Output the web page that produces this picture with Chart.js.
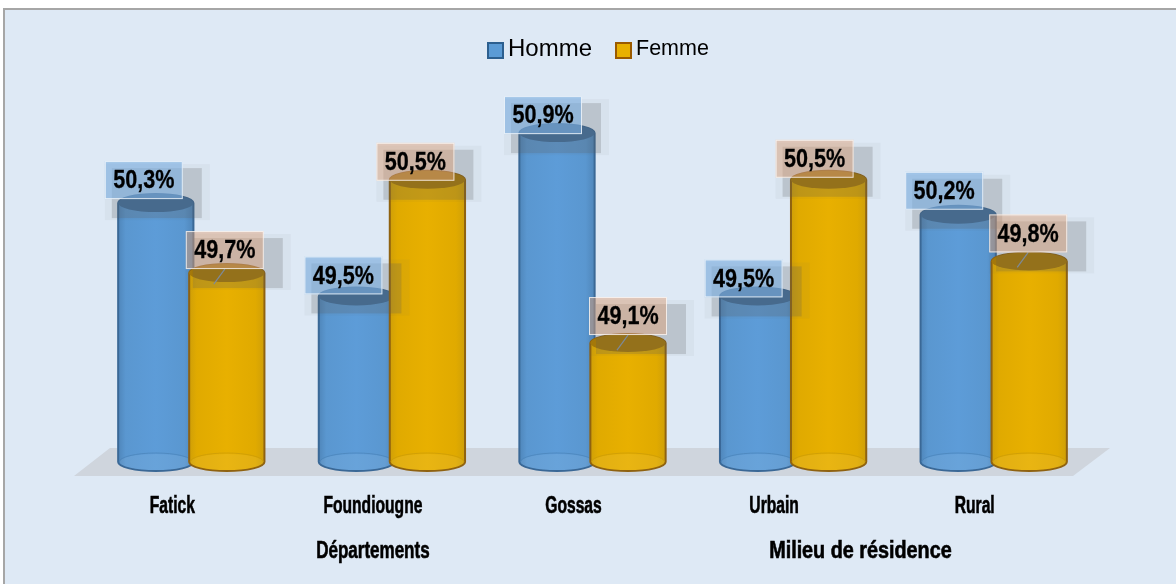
<!DOCTYPE html>
<html lang="fr">
<head>
<meta charset="utf-8">
<title>Homme / Femme</title>
<style>
html,body{margin:0;padding:0;background:#fff}
#wrap{position:relative;width:1176px;height:584px}
canvas{display:block}
</style>
<script src="https://cdn.jsdelivr.net/npm/chart.js@4"></script>
</head>
<body>
<div id="wrap"><canvas id="c" width="1176" height="584"></canvas></div>
<script>
const categories = ['Fatick', 'Foundiougne', 'Gossas', 'Urbain', 'Rural'];
const groupLabels = ['Départements', 'Milieu de résidence'];
const homme = [50.3, 49.5, 50.9, 49.5, 50.2];
const femme = [49.7, 50.5, 49.1, 50.5, 49.8];
const axisMin = 48.08;
const axisMax = 51.99;

const SANS = '"Liberation Sans",Arial,sans-serif';
// label box offset from the top of each bar
const hommeLabelOffset = [[-12, -23], [-13, -21], [-14, -18], [-14, -18], [-14, -24]];
const femmeLabelOffset = [[-2, -23], [-12, -18], [0, -27], [-14, -21], [-1, -28]];
const femmeLeader = [true, false, true, false, true];

const styles = [
  {edge:'#3a6896', dark:'#4f86ba', mid:'#5a97d0', light:'#5d9cd8', top:'#41709f', base:'#4a83b8', box:'rgba(122,172,222,.62)', swatch:'#5b9bd5', swatchEdge:'#2c5f8f'},
  {edge:'#8f6210', dark:'#cf9f08', mid:'#e0aa00', light:'#e8b000', top:'#a87a06', base:'#c99a08', box:'rgba(222,160,120,.48)', swatch:'#e8b000', swatchEdge:'#9a5a00'}
];
const legendFonts = [24, 21.5];
const legendBoxes = [487, 615];

function squeezed(c, text, x, y, font, factor, heavy) {
  c.save();
  c.font = font;
  c.textAlign = 'center';
  c.textBaseline = 'middle';
  c.fillStyle = '#000';
  c.strokeStyle = '#000';
  c.translate(x, y);
  c.scale(factor, 1);
  c.fillText(text, 0, 0);
  if (heavy) { c.lineWidth = heavy; c.strokeText(text, 0, 0); }
  c.restore();
}

const cylinderPlugin = {
  id: 'cylinders',
  beforeDraw(chart) {
    const c = chart.ctx;
    c.save();
    c.fillStyle = '#ffffff'; c.fillRect(0, 0, 1176, 584);
    c.fillStyle = '#dee9f5'; c.fillRect(3, 8, 1173, 576);
    c.fillStyle = '#a6a6a6'; c.fillRect(3, 8, 1173, 2); c.fillRect(3, 8, 2, 576);
    // floor of the 3-D plot
    const a = chart.chartArea;
    c.fillStyle = '#cfd5dd';
    c.beginPath();
    c.moveTo(a.left + 19, a.bottom - 14);
    c.lineTo(a.right + 16, a.bottom - 14);
    c.lineTo(a.right - 21, a.bottom + 14);
    c.lineTo(a.left - 17, a.bottom + 14);
    c.closePath(); c.fill();
    c.restore();
  },
  afterDatasetsDraw(chart) {
    const c = chart.ctx;
    const RY = 9;
    const metas = [chart.getDatasetMeta(0), chart.getDatasetMeta(1)];
    // cylinders, Homme first so Femme overlaps it
    metas.forEach((meta, d) => {
      const s = styles[d];
      meta.data.forEach(bar => {
        const {x, y, base, width} = bar.getProps(['x', 'y', 'base', 'width']);
        const l = x - width / 2, r = x + width / 2, rx = width / 2;
        c.save();
        const g = c.createLinearGradient(l, 0, r, 0);
        g.addColorStop(0, s.dark); g.addColorStop(.1, s.mid);
        g.addColorStop(.5, s.light); g.addColorStop(.88, s.mid); g.addColorStop(1, s.dark);
        c.beginPath();
        c.moveTo(l, y);
        c.lineTo(l, base);
        c.ellipse(x, base, rx, RY, 0, Math.PI, 0, true);
        c.lineTo(r, y);
        c.ellipse(x, y, rx, RY, 0, 0, Math.PI, true);
        c.closePath();
        c.fillStyle = g; c.fill();
        c.strokeStyle = s.edge; c.lineWidth = 2; c.stroke();
        // base disc seen through the wall
        c.beginPath();
        c.ellipse(x, base, rx - 1.5, RY - 1, 0, 0, Math.PI * 2);
        c.fillStyle = 'rgba(255,255,255,.07)'; c.fill();
        c.beginPath();
        c.ellipse(x, base, rx - 1, RY, 0, Math.PI, 0);
        c.strokeStyle = s.base; c.globalAlpha = .7; c.lineWidth = 1; c.stroke();
        c.globalAlpha = 1;
        // lid
        c.beginPath();
        c.ellipse(x, y, rx, RY, 0, 0, Math.PI * 2);
        c.fillStyle = s.top; c.fill();
        c.restore();
      });
    });
    // data labels
    metas.forEach((meta, d) => {
      const s = styles[d];
      const vals = d === 0 ? homme : femme;
      const offs = d === 0 ? hommeLabelOffset : femmeLabelOffset;
      meta.data.forEach((bar, i) => {
        const {x, y} = bar.getProps(['x', 'y']);
        const cx = x + offs[i][0], cy = y + offs[i][1];
        const w = 78, h = 38, l = cx - w / 2, t = cy - h / 2;
        c.save();
        c.fillStyle = 'rgba(90,90,90,.05)';
        c.fillRect(l, t + 3, w + 27, h + 18);
        c.fillStyle = 'rgba(90,90,90,.22)';
        c.fillRect(l + 7, t + 7, w + 12, h + 12);
        if (d === 1 && femmeLeader[i]) {
          c.strokeStyle = '#7d8a99'; c.lineWidth = 1.2;
          c.beginPath(); c.moveTo(cx, t + h); c.lineTo(cx - 11, t + h + 15); c.stroke();
        }
        c.fillStyle = s.box; c.fillRect(l, t, w, h);
        c.strokeStyle = 'rgba(255,255,255,.75)'; c.lineWidth = 1;
        c.strokeRect(l + .5, t + .5, w - 1, h - 1);
        const txt = vals[i].toFixed(1).replace('.', ',') + '%';
        squeezed(c, txt, cx, cy + 1, 'bold 26px ' + SANS, 0.83, 0.3);
        c.restore();
      });
    });
    // category and group labels
    const sx = chart.scales.x;
    const shift = -19;
    categories.forEach((name, i) => {
      squeezed(c, sx.getLabelForValue(i), sx.getPixelForTick(i) + shift, 507, 'bold 23px ' + SANS, 0.68, 0.6);
    });
    squeezed(c, groupLabels[0], sx.getPixelForTick(1) + shift, 552, 'bold 23px ' + SANS, 0.74, 0.6);
    squeezed(c, groupLabels[1], (sx.getPixelForTick(3) + sx.getPixelForTick(4)) / 2 + shift - 14, 552, 'bold 23px ' + SANS, 0.86, 0.6);
    // legend
    chart.data.datasets.forEach((ds, d) => {
      const s = styles[d], bx = legendBoxes[d];
      c.save();
      c.fillStyle = s.swatch; c.strokeStyle = s.swatchEdge; c.lineWidth = 2;
      c.fillRect(bx + 1, 43, 15, 15); c.strokeRect(bx + 1, 43, 15, 15);
      c.fillStyle = '#000';
      c.font = legendFonts[d] + 'px ' + SANS;
      c.textAlign = 'left'; c.textBaseline = 'middle';
      c.fillText(ds.label, bx + 21, 49);
      c.restore();
    });
  }
};

new Chart(document.getElementById('c'), {
  type: 'bar',
  data: {
    labels: categories,
    datasets: [
      {label: 'Homme', data: homme, base: axisMin, backgroundColor: '#5b9bd5', borderColor: '#3a6896', borderWidth: 0},
      {label: 'Femme', data: femme, base: axisMin, backgroundColor: '#e0aa00', borderColor: '#8f6210', borderWidth: 0}
    ]
  },
  options: {
    responsive: false,
    animation: false,
    categoryPercentage: 0.708,
    barPercentage: 1.06,
    layout: {padding: {left: 91, right: 82, top: 6, bottom: 0}},
    plugins: {
      tooltip: {enabled: false},
      legend: {display: false}
    },
    scales: {
      y: {display: false, min: axisMin, max: axisMax, grid: {display: false}},
      x: {
        grid: {display: false}, border: {display: false},
        ticks: {display: false},
        afterFit(scale) { scale.height = 122; }
      }
    }
  },
  plugins: [cylinderPlugin]
});
</script>
</body>
</html>
